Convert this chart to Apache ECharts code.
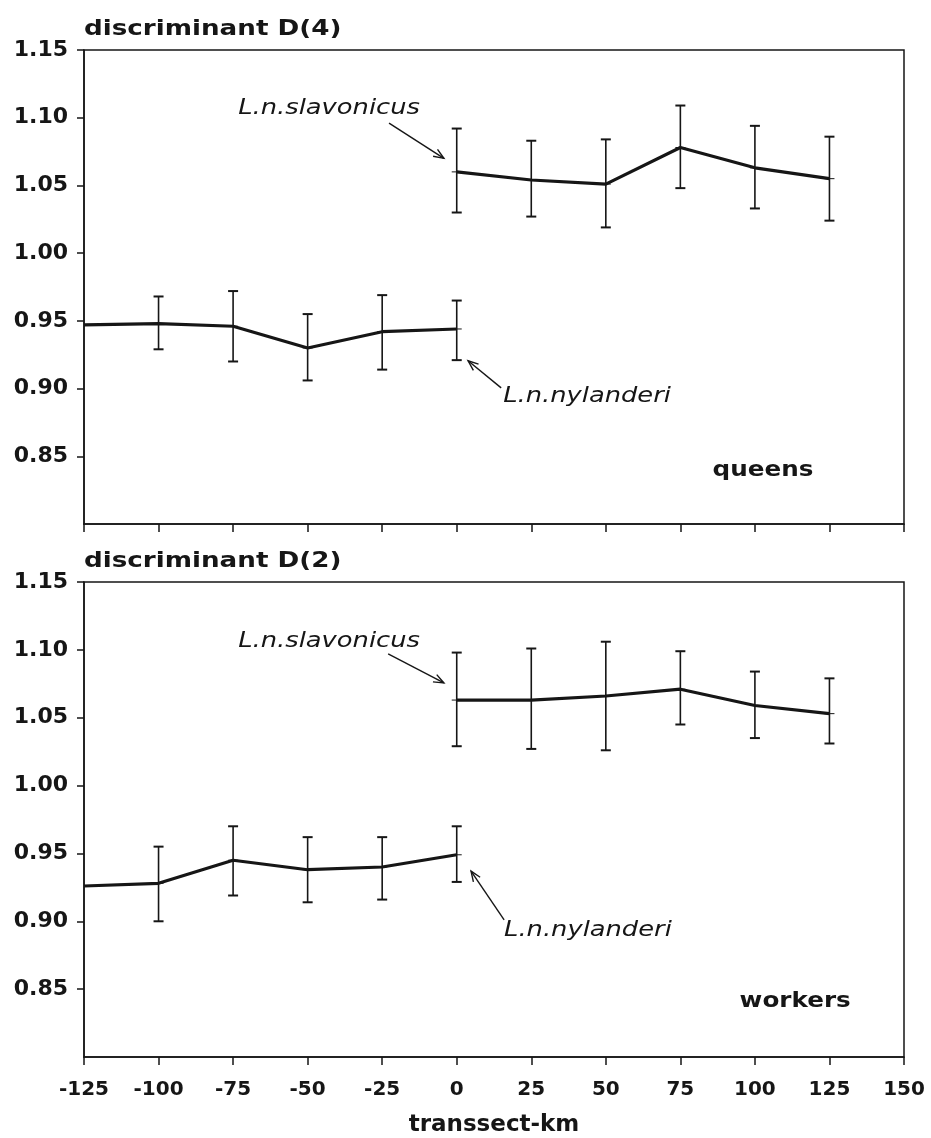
<!DOCTYPE html>
<html>
<head>
<meta charset="utf-8">
<script src="https://cdn.jsdelivr.net/npm/echarts@6/dist/echarts.min.js"></script>
<style>
html,body{margin:0;padding:0;background:#fff;}
#c{width:931px;height:1138px;}
</style>
</head>
<body>
<div id="c"></div>
<script>
// ---- data ----
const kmNyl = [-125, -100, -75, -50, -25, 0];
const kmSlav = [0, 25, 50, 75, 100, 125];

const queensNylMean = [0.947, 0.948, 0.946, 0.930, 0.942, 0.944];
const queensNylLow  = [null, 0.929, 0.920, 0.906, 0.914, 0.921];
const queensNylHigh = [null, 0.968, 0.972, 0.955, 0.969, 0.965];
const queensSlavMean = [1.060, 1.054, 1.051, 1.078, 1.063, 1.055];
const queensSlavLow  = [1.030, 1.027, 1.019, 1.048, 1.033, 1.024];
const queensSlavHigh = [1.092, 1.083, 1.084, 1.109, 1.094, 1.086];

const workersNylMean = [0.926, 0.928, 0.945, 0.938, 0.940, 0.949];
const workersNylLow  = [null, 0.900, 0.919, 0.914, 0.916, 0.929];
const workersNylHigh = [null, 0.955, 0.970, 0.962, 0.962, 0.970];
const workersSlavMean = [1.063, 1.063, 1.066, 1.071, 1.059, 1.053];
const workersSlavLow  = [1.029, 1.027, 1.026, 1.045, 1.035, 1.031];
const workersSlavHigh = [1.098, 1.101, 1.106, 1.099, 1.084, 1.079];

const yTickValues = [0.85, 0.90, 0.95, 1.00, 1.05, 1.10, 1.15];
const xTickValues = [-125, -100, -75, -50, -25, 0, 25, 50, 75, 100, 125, 150];

const panelTitles = ['discriminant D(4)', 'discriminant D(2)'];
const panelLabels = ['queens', 'workers'];
const xAxisName = 'transsect-km';
const nameSlav = 'L.n.slavonicus';
const nameNyl = 'L.n.nylanderi';

// annotation anchors in data coordinates [km, value]
const annot = [
  { slavText: [-42.8, 1.107], slavArrow: [[-22.7, 1.096], [-4.3, 1.070]],
    nylText: [43.7, 0.894], nylArrow: [[14.9, 0.9005], [3.8, 0.9205]],
    label: [102.7, 0.840] },
  { slavText: [-42.8, 1.106], slavArrow: [[-23.0, 1.097], [-4.3, 1.0756]],
    nylText: [44.0, 0.8935], nylArrow: [[15.9, 0.901], [4.8, 0.937]],
    label: [113.5, 0.841] }
];

// ---- build ----
const FONT = '"DejaVu Sans", sans-serif';
const INK = '#161616';

function pairs(xs, ys) { return xs.map((x, i) => [x, ys[i]]); }
function errData(xs, m, lo, hi) {
  const out = [];
  xs.forEach((x, i) => { if (lo[i] != null) out.push([x, m[i], lo[i], hi[i]]); });
  return out;
}

function renderErr(params, api) {
  const x = api.value(0), m = api.value(1), lo = api.value(2), hi = api.value(3);
  const pLo = api.coord([x, lo]);
  const pHi = api.coord([x, hi]);
  const pM = api.coord([x, m]);
  const w = 5;
  const st = { stroke: INK, lineWidth: 1.6 };
  return {
    type: 'group',
    children: [
      { type: 'line', shape: { x1: pLo[0], y1: pLo[1], x2: pHi[0], y2: pHi[1] }, style: st },
      { type: 'line', shape: { x1: pLo[0] - w, y1: pLo[1], x2: pLo[0] + w, y2: pLo[1] }, style: { stroke: INK, lineWidth: 2 } },
      { type: 'line', shape: { x1: pHi[0] - w, y1: pHi[1], x2: pHi[0] + w, y2: pHi[1] }, style: { stroke: INK, lineWidth: 2 } },
      { type: 'line', shape: { x1: pM[0] - w, y1: pM[1], x2: pM[0] + w, y2: pM[1] }, style: { stroke: INK, lineWidth: 1 } }
    ]
  };
}

const grids = [
  { left: 84, right: 27, top: 50, height: 474, show: true, borderColor: INK, borderWidth: 1.5, containLabel: false, outerBoundsMode: 'none' },
  { left: 84, right: 27, top: 582, height: 475, show: true, borderColor: INK, borderWidth: 1.5, containLabel: false, outerBoundsMode: 'none' }
];

function xAx(i) {
  return {
    type: 'value', gridIndex: i, min: -125, max: 150, interval: 25,
    axisLine: { show: true, onZero: false, lineStyle: { color: INK, width: 1.5 } },
    axisTick: { show: true, inside: false, length: 8, customValues: xTickValues, lineStyle: { color: INK, width: 1.5 } },
    axisLabel: { show: i === 1, customValues: xTickValues, color: INK, fontFamily: FONT, fontWeight: 'bold', fontSize: 20, margin: 23 },
    splitLine: { show: false },
    name: i === 1 ? xAxisName : '',
    nameLocation: 'middle', nameGap: 57,
    nameTextStyle: { color: INK, fontFamily: FONT, fontWeight: 'bold', fontSize: 23 }
  };
}
function yAx(i) {
  return {
    type: 'value', gridIndex: i, min: 0.80, max: 1.15, interval: 0.05,
    axisLine: { show: true, onZero: false, lineStyle: { color: INK, width: 1.5 } },
    axisTick: { show: true, inside: false, length: 7, customValues: yTickValues, lineStyle: { color: INK, width: 1.5 } },
    axisLabel: { customValues: yTickValues, color: INK, fontFamily: FONT, fontWeight: 'bold', fontSize: 22, margin: 16,
      formatter: v => v.toFixed(2) },
    splitLine: { show: false }
  };
}

function lineSeries(i, xs, ys) {
  return { type: 'line', xAxisIndex: i, yAxisIndex: i, data: pairs(xs, ys), showSymbol: false, symbol: 'none',
    lineStyle: { color: INK, width: 3.2 }, z: 3, silent: true, animation: false };
}
function errSeries(i, xs, m, lo, hi) {
  return { type: 'custom', xAxisIndex: i, yAxisIndex: i, renderItem: renderErr, data: errData(xs, m, lo, hi),
    z: 4, silent: true, animation: false, encode: { x: 0, y: [1, 2, 3] } };
}

const option = {
  backgroundColor: '#fff',
  animation: false,
  grid: grids,
  xAxis: [xAx(0), xAx(1)],
  yAxis: [yAx(0), yAx(1)],
  series: [
    lineSeries(0, kmNyl, queensNylMean),
    errSeries(0, kmNyl, queensNylMean, queensNylLow, queensNylHigh),
    lineSeries(0, kmSlav, queensSlavMean),
    errSeries(0, kmSlav, queensSlavMean, queensSlavLow, queensSlavHigh),
    lineSeries(1, kmNyl, workersNylMean),
    errSeries(1, kmNyl, workersNylMean, workersNylLow, workersNylHigh),
    lineSeries(1, kmSlav, workersSlavMean),
    errSeries(1, kmSlav, workersSlavMean, workersSlavLow, workersSlavHigh)
  ]
};

const chart = echarts.init(document.getElementById('c'), null, { renderer: 'canvas' });
chart.setOption(option);

// ---- annotations (positioned through the chart's own scales) ----
function arrowEls(g, from, to) {
  const p1 = chart.convertToPixel({ gridIndex: g }, from);
  const p2 = chart.convertToPixel({ gridIndex: g }, to);
  const ang = Math.atan2(p2[1] - p1[1], p2[0] - p1[0]);
  const L = 11, a = 0.38;
  const h1 = [p2[0] - L * Math.cos(ang - a), p2[1] - L * Math.sin(ang - a)];
  const h2 = [p2[0] - L * Math.cos(ang + a), p2[1] - L * Math.sin(ang + a)];
  return [
    { type: 'line', shape: { x1: p1[0], y1: p1[1], x2: p2[0], y2: p2[1] }, style: { stroke: INK, lineWidth: 1.4 }, silent: true },
    { type: 'polyline', shape: { points: [h1, p2, h2] }, style: { stroke: INK, lineWidth: 1.4, fill: null }, silent: true }
  ];
}
function textEl(g, pos, text, font, sx) {
  const p = chart.convertToPixel({ gridIndex: g }, pos);
  return { type: 'text', x: p[0], y: p[1], scaleX: sx, silent: true,
    style: { text: text, font: font, fill: INK, textAlign: 'center', textVerticalAlign: 'middle' } };
}

const els = [];
[0, 1].forEach(g => {
  const a = annot[g];
  const topPx = chart.convertToPixel({ gridIndex: g }, [-125, 1.15]);
  els.push({ type: 'text', x: topPx[0], y: topPx[1] - 21, scaleX: 1.19, silent: true,
    style: { text: panelTitles[g], font: 'bold 22px ' + FONT, fill: INK, textAlign: 'left', textVerticalAlign: 'middle' } });
  els.push(textEl(g, a.slavText, nameSlav, 'italic 22px ' + FONT, 1.17));
  els.push(textEl(g, a.nylText, nameNyl, 'italic 22px ' + FONT, 1.17));
  els.push(textEl(g, a.label, panelLabels[g], 'bold 22px ' + FONT, 1.12));
  els.push(...arrowEls(g, a.slavArrow[0], a.slavArrow[1]));
  els.push(...arrowEls(g, a.nylArrow[0], a.nylArrow[1]));
});
chart.setOption({ graphic: { elements: els } });
</script>
</body>
</html>
